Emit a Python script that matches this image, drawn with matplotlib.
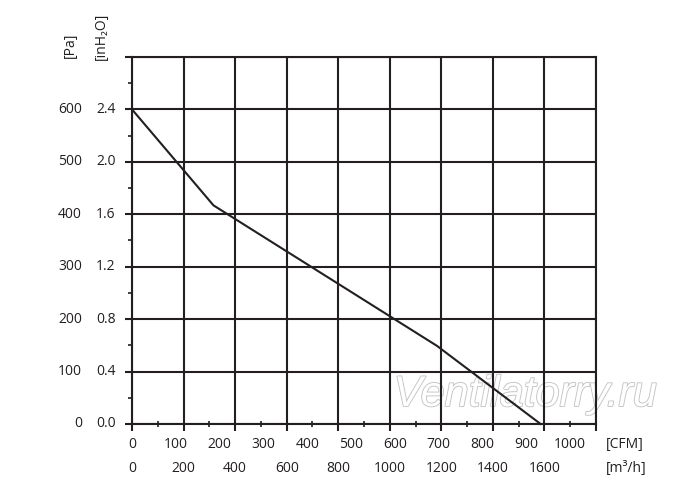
import matplotlib
matplotlib.use("Agg")
import matplotlib.pyplot as plt
import matplotlib.transforms as mtransforms
import matplotlib.patheffects as pe
import numpy as np

# ---- data ----
flow_m3h = [0, 316, 1183, 1585]
pressure_pa = [600, 417, 149, 0]

pa_ticks = [0, 100, 200, 300, 400, 500, 600]
inh2o_labels = ["0.0", "0.4", "0.8", "1.2", "1.6", "2.0", "2.4"]
cfm_ticks = [0, 100, 200, 300, 400, 500, 600, 700, 800, 900, 1000]
m3h_ticks = [0, 200, 400, 600, 800, 1000, 1200, 1400, 1600]
CFM_TO_M3H = 1.699

plt.rcParams['font.family'] = ['Open Sans', 'DejaVu Sans']
col = '#231f20'
txtcol = '#231f20'

fig = plt.figure(figsize=(7, 4.9), dpi=100)
ax = fig.add_axes([0.1886, 0.1347, 0.6629, 0.749])
ax.set_xlim(0, 1800)
ax.set_ylim(0, 700)

ax.set_xticks(np.arange(0, 1801, 200))
ax.set_xticks(np.arange(100, 1800, 200), minor=True)
ax.set_yticks(np.arange(0, 701, 100))
ax.set_yticks(np.arange(50, 700, 100), minor=True)
ax.grid(True, which='major', color=col, linewidth=1.5)
ax.set_axisbelow(True)
for s in ax.spines.values():
    s.set_color(col)
    s.set_linewidth(1.5)
ax.tick_params(axis='x', which='major', direction='out', length=5, width=1.5, color=col, labelbottom=False)
ax.tick_params(axis='x', which='minor', direction='inout', length=4, width=1.2, color=col)
ax.tick_params(axis='y', which='major', direction='out', length=5, width=1.5, color=col, labelleft=False)
ax.tick_params(axis='y', which='minor', direction='out', length=3, width=1.2, color=col)

ax.plot(flow_m3h, pressure_pa, color=col, linewidth=1.5, zorder=3, clip_on=False)

# y labels
ty = mtransforms.blended_transform_factory(ax.transAxes, ax.transData)
fs = 10
for p, lab in zip(pa_ticks, inh2o_labels):
    ax.text(-0.108, p, str(p), transform=ty, ha='right', va='center', fontsize=fs, color=txtcol)
    ax.text(-0.035, p, lab, transform=ty, ha='right', va='center', fontsize=fs, color=txtcol)

# x labels
tx = mtransforms.blended_transform_factory(ax.transData, ax.transAxes)
for c in cfm_ticks:
    ax.text(c * CFM_TO_M3H, -0.056, str(c), transform=tx, ha='center', va='center', fontsize=fs, color=txtcol)
for m in m3h_ticks:
    ax.text(m, -0.122, str(m), transform=tx, ha='center', va='center', fontsize=fs, color=txtcol)

fig.text(0.865, 1 - 444 / 490, "[CFM]", ha='left', va='center', fontsize=fs, color=txtcol)
fig.text(0.865, 1 - 468 / 490, "[m³/h]", ha='left', va='center', fontsize=fs, color=txtcol)

fig.text(70 / 700, 1 - 45 / 490, "[Pa]", rotation=90, ha='center', va='center', fontsize=fs, color=txtcol)
fig.text(101 / 700, 1 - 36 / 490, "[inH₂O]", rotation=90, ha='center', va='center', fontsize=fs, color=txtcol)

# watermark (behind grid and curve)
ax.text(525 / 700, 1 - 395 / 490, "Ventilatorry.ru", transform=fig.transFigure,
        ha='center', va='center', fontsize=31,
        family='Liberation Sans', style='italic', color='white', zorder=0.2, clip_on=False,
        path_effects=[pe.withStroke(linewidth=1.3, foreground='#c4c4c4')])

fig.savefig("out.png", dpi=100)
